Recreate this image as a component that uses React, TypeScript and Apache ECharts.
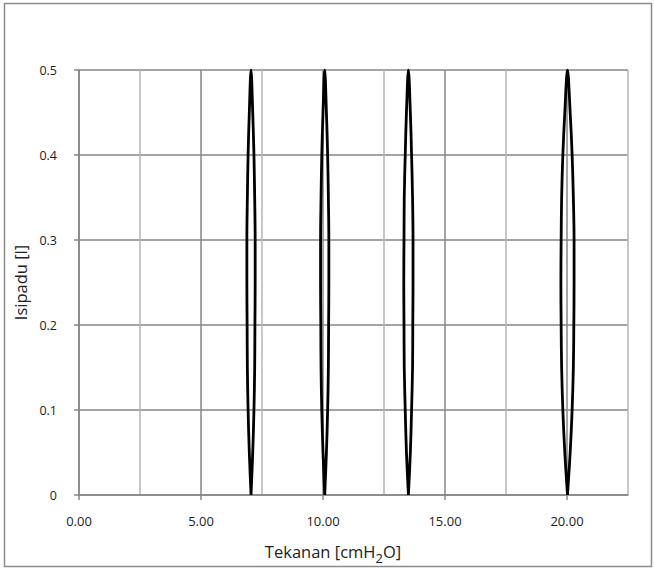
import React, { useEffect, useRef } from "react";
import * as echarts from "echarts";

// Shared volume path for each loop (up the inspiration branch, down the expiration branch)
const volume = [0, 0.05, 0.1, 0.15, 0.2, 0.25, 0.3, 0.35, 0.4, 0.45, 0.5, 0.45, 0.4, 0.35, 0.3, 0.25, 0.2, 0.15, 0.1, 0.05, 0];

const pressureLoop1 = [7.05, 7.12, 7.17, 7.2, 7.21, 7.22, 7.22, 7.2, 7.17, 7.12, 7.05, 6.98, 6.93, 6.9, 6.88, 6.88, 6.89, 6.9, 6.93, 6.98, 7.05];
const pressureLoop2 = [10.07, 10.14, 10.19, 10.22, 10.23, 10.24, 10.24, 10.22, 10.19, 10.14, 10.07, 10.0, 9.95, 9.92, 9.9, 9.9, 9.91, 9.92, 9.95, 10.0, 10.07];
const pressureLoop3 = [13.5, 13.58, 13.63, 13.67, 13.68, 13.69, 13.69, 13.67, 13.63, 13.58, 13.5, 13.42, 13.37, 13.33, 13.32, 13.31, 13.32, 13.33, 13.37, 13.42, 13.5];
const pressureLoop4 = [20.02, 20.13, 20.21, 20.26, 20.28, 20.29, 20.29, 20.26, 20.21, 20.13, 20.02, 19.91, 19.83, 19.78, 19.76, 19.75, 19.76, 19.78, 19.83, 19.91, 20.02];

const xTickLabels = [0, 5, 10, 15, 20];
const xTitle = "Tekanan [cmH";
const xTitleSub = "2";
const xTitleEnd = "O]";
const yTitle = "Isipadu [l]";

const FONT = "'Open Sans', 'Noto Sans', sans-serif";

export default function App() {
  const ref = useRef<HTMLDivElement>(null);

  useEffect(() => {
    document.body.style.margin = "0";
    const chart = echarts.init(ref.current!, null, { renderer: "svg" });
    const loops = [pressureLoop1, pressureLoop2, pressureLoop3, pressureLoop4];
    chart.setOption({
      animation: false,
      backgroundColor: "#ffffff",
      textStyle: { fontFamily: FONT },
      grid: { left: 79, right: 26, top: 70, bottom: 75, containLabel: false },
      graphic: [
        {
          type: "rect",
          shape: { x: 4.5, y: 3.5, width: 647, height: 563 },
          style: { fill: "none", stroke: "#8c8c8c", lineWidth: 1.5 },
          silent: true,
          z: -10,
        },
        {
          type: "text",
          x: 333,
          y: 551,
          style: {
            text: `{a|${xTitle}}{s|${xTitleSub}}{a|${xTitleEnd}}`,
            align: "center",
            verticalAlign: "middle",
            fontFamily: FONT,
            rich: {
              a: { fontSize: 16.5, fill: "#222", fontFamily: FONT, lineHeight: 22, verticalAlign: "middle" },
              s: { fontSize: 13, fill: "#222", fontFamily: FONT, lineHeight: 22, padding: [13, 0, 0, 0], verticalAlign: "middle" },
            },
          },
        },
      ],
      xAxis: [
        {
          type: "value",
          min: 0,
          max: 22.5,
          interval: 2.5,
          axisLine: { show: true, lineStyle: { color: "#868686", width: 1.5 } },
          axisTick: {
            show: true,
            customValues: xTickLabels,
            length: 5,
            lineStyle: { color: "#868686", width: 1.5 },
          },
          axisLabel: {
            customValues: xTickLabels,
            formatter: (v: number) => v.toFixed(2),
            margin: 19,
            fontSize: 13,
            color: "#222",
            fontFamily: FONT,
          },
          splitLine: { show: false },
          z: 3,
        },
        {
          type: "value",
          min: 0,
          max: 22.5,
          interval: 2.5,
          position: "bottom",
          axisLine: { show: false },
          axisTick: { show: false },
          axisLabel: { show: false },
          splitLine: {
            show: true,
            lineStyle: { color: ["#868686", "#b5b5b5"], width: 1.5 },
          },
          z: 1,
        },
      ],
      yAxis: {
        type: "value",
        min: 0,
        max: 0.5,
        interval: 0.1,
        name: yTitle,
        nameLocation: "middle",
        nameGap: 43,
        nameTextStyle: { fontSize: 16.5, color: "#222", fontFamily: FONT },
        axisLine: { show: true, lineStyle: { color: "#868686", width: 1.5 } },
        axisTick: { show: true, length: 5, lineStyle: { color: "#868686", width: 1.5 } },
        axisLabel: {
          formatter: (v: number) => (v === 0 ? "0" : v.toFixed(1)),
          margin: 22,
          fontSize: 12.5,
          color: "#222",
          fontFamily: FONT,
        },
        splitLine: { show: true, lineStyle: { color: "#868686", width: 1.5 } },
      },
      series: loops.map((p, i) => ({
        name: `loop${i + 1}`,
        type: "line",
        xAxisIndex: 0,
        data: p.map((x, j) => [x, volume[j]]),
        showSymbol: false,
        smooth: 0.35,
        lineStyle: { color: "#000", width: 2.8, join: "round" },
        z: 5,
      })),
    });
    return () => chart.dispose();
  }, []);

  return <div ref={ref} style={{ position: "absolute", left: 0, top: 0, width: 654, height: 570 }} />;
}
